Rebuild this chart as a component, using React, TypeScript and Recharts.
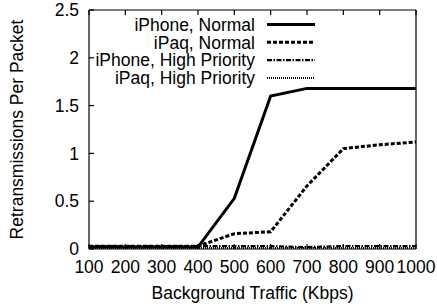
import { Line, LineChart, XAxis, YAxis, Legend } from "recharts"

const traffic = [100, 200, 300, 400, 500, 600, 700, 800, 900, 1000]
const iphoneNormal = [0.02, 0.02, 0.02, 0.02, 0.53, 1.6, 1.68, 1.68, 1.68, 1.68]
const ipaqNormal = [0.03, 0.03, 0.03, 0.03, 0.16, 0.18, 0.66, 1.05, 1.09, 1.12]
const iphoneHigh = [0.03, 0.03, 0.03, 0.03, 0.03, 0.03, 0.02, 0.03, 0.03, 0.03]
const ipaqHigh = [0.01, 0.01, 0.01, 0.01, 0.01, 0.01, 0.01, 0.01, 0.01, 0.01]

const xTicks = [100, 200, 300, 400, 500, 600, 700, 800, 900, 1000]
const yTicks = [0, 0.5, 1, 1.5, 2, 2.5]

const FONT = "'Liberation Sans', Arial, Helvetica, sans-serif"
const FS = 17.5
const W = 437
const H = 307

const series = [
    { key: "iphoneNormal", name: "iPhone, Normal", width: 3, dash: undefined },
    { key: "ipaqNormal", name: "iPaq, Normal", width: 3, dash: "4 2" },
    { key: "iphoneHigh", name: "iPhone, High Priority", width: 2.2, dash: "5 1.5 1.5 1.5" },
    { key: "ipaqHigh", name: "iPaq, High Priority", width: 2, dash: "1 1" },
]

const data = traffic.map((t, i) => ({
    traffic: t,
    iphoneNormal: iphoneNormal[i],
    ipaqNormal: ipaqNormal[i],
    iphoneHigh: iphoneHigh[i],
    ipaqHigh: ipaqHigh[i],
}))

const axisLine = { stroke: "#000", strokeWidth: 1.2 }
const tickLine = { stroke: "#000", strokeWidth: 1.2 }
const tickText = { fill: "#000", fontFamily: FONT, fontSize: FS }

const LegendBox = () => (
    <svg width={W} height={90} style={{ display: "block" }}>
        {series.map((s, i) => {
            const cy = 24.5 + i * 17.8
            return (
                <g key={s.key}>
                    <text x={255} y={cy} dy="0.36em" textAnchor="end" fontFamily={FONT} fontSize={FS} fill="#000">
                        {s.name}
                    </text>
                    <line x1={267} x2={315} y1={cy} y2={cy} stroke="#000" strokeWidth={s.width} strokeDasharray={s.dash} />
                </g>
            )
        })}
    </svg>
)

export default function App() {
    return (
        <div style={{ position: "absolute", left: 0, top: 0, width: W, height: H, background: "#fff" }}>
            <LineChart width={W} height={H} data={data} margin={{ top: 9, right: 20, bottom: 0, left: 0 }}>
                {/* negative tickSize -> gnuplot-style inward ticks */}
                <XAxis
                    xAxisId="b"
                    dataKey="traffic"
                    type="number"
                    domain={[100, 1000]}
                    ticks={xTicks}
                    interval={0}
                    height={58}
                    tickSize={-5}
                    tickMargin={16.6}
                    tickLine={tickLine}
                    tick={tickText}
                    axisLine={axisLine}
                    label={(p: any) => (
                        <text
                            x={p.viewBox.x + p.viewBox.width / 2}
                            y={p.viewBox.y + 50}
                            textAnchor="middle"
                            fontFamily={FONT}
                            fontSize={FS}
                            fill="#000"
                        >
                            Background Traffic (Kbps)
                        </text>
                    )}
                />
                <XAxis
                    xAxisId="t"
                    orientation="top"
                    dataKey="traffic"
                    type="number"
                    domain={[100, 1000]}
                    ticks={xTicks}
                    interval={0}
                    height={1}
                    tickSize={-5}
                    tickLine={tickLine}
                    tick={() => null}
                    axisLine={axisLine}
                />
                <YAxis
                    yAxisId="l"
                    type="number"
                    domain={[0, 2.5]}
                    ticks={yTicks}
                    interval={0}
                    width={89}
                    tickSize={-5}
                    tickMargin={15}
                    tickLine={tickLine}
                    tick={tickText}
                    axisLine={axisLine}
                    label={(p: any) => {
                        const cx = 17
                        const cy = p.viewBox.y + p.viewBox.height / 2
                        return (
                            <text
                                x={cx}
                                y={cy}
                                dy="0.36em"
                                textAnchor="middle"
                                transform={`rotate(-90, ${cx}, ${cy})`}
                                fontFamily={FONT}
                                fontSize={FS}
                                fill="#000"
                            >
                                Retransmissions Per Packet
                            </text>
                        )
                    }}
                />
                <YAxis
                    yAxisId="r"
                    orientation="right"
                    type="number"
                    domain={[0, 2.5]}
                    ticks={yTicks}
                    interval={0}
                    width={1}
                    tickSize={-5}
                    tickLine={tickLine}
                    tick={() => null}
                    axisLine={axisLine}
                />
                <Legend
                    layout="vertical"
                    align="center"
                    verticalAlign="middle"
                    wrapperStyle={{ left: 0, top: 0, width: W, height: 90 }}
                    content={() => <LegendBox />}
                />
                {series.map((s) => (
                    <Line
                        key={s.key}
                        xAxisId="b"
                        yAxisId="l"
                        type="linear"
                        dataKey={s.key}
                        name={s.name}
                        stroke="#000"
                        strokeWidth={s.width}
                        strokeDasharray={s.dash}
                        dot={false}
                        activeDot={false}
                        isAnimationActive={false}
                    />
                ))}
            </LineChart>
        </div>
    )
}
